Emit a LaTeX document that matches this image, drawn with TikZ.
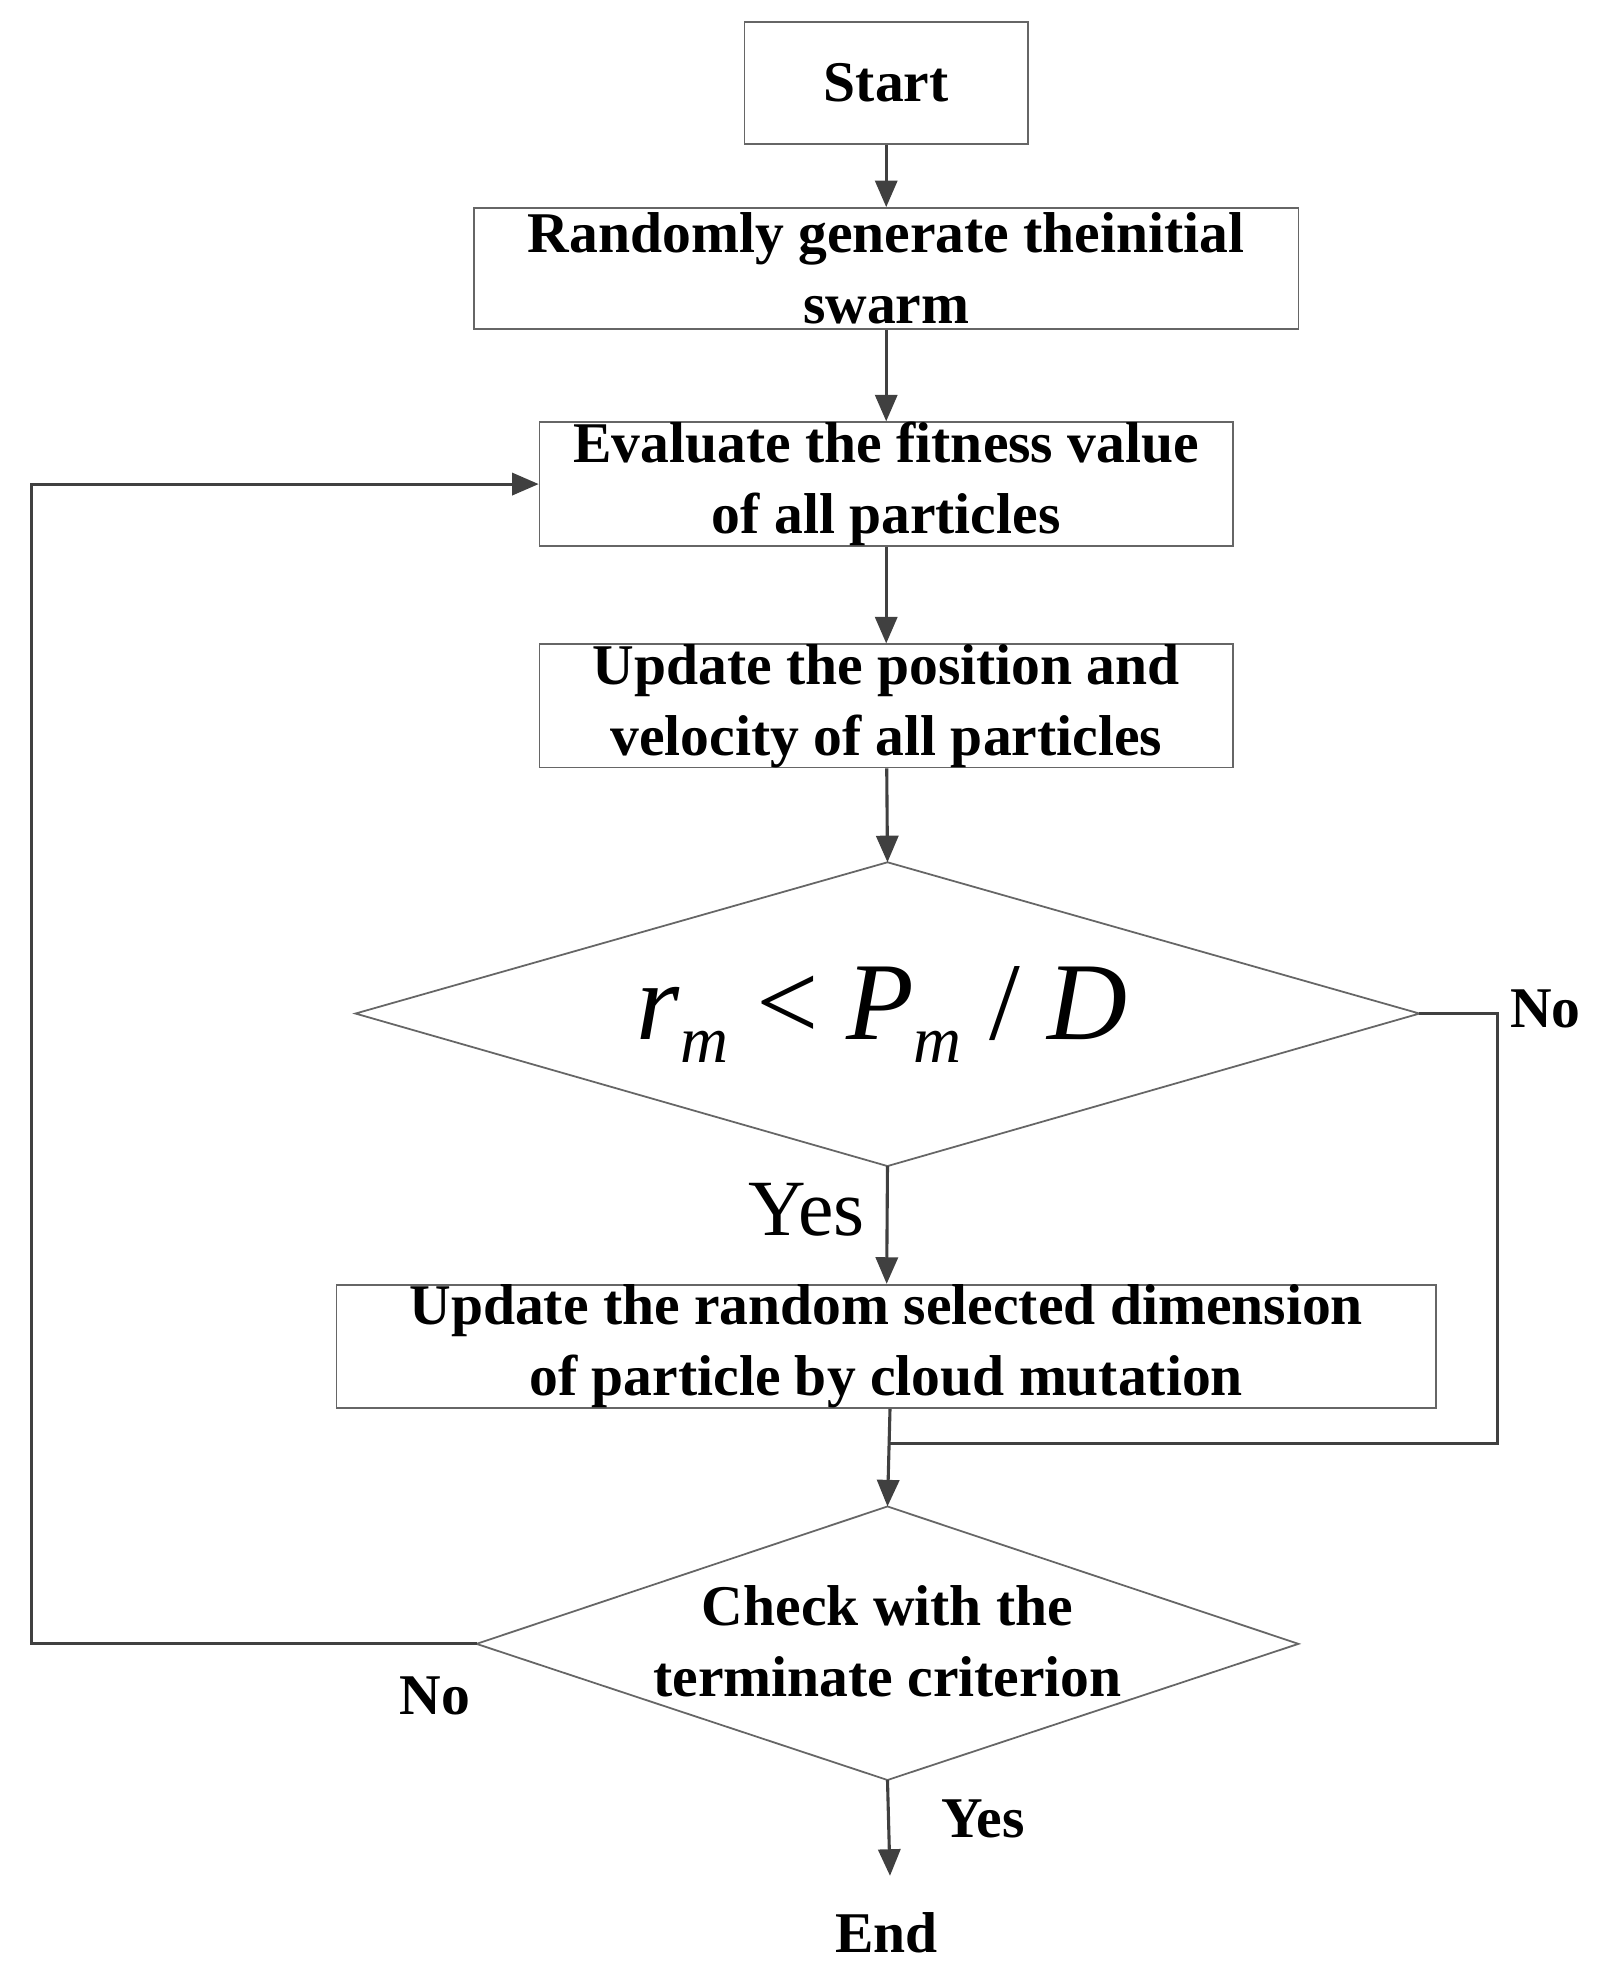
\documentclass[tikz,border=0pt]{standalone}
\usepackage{fontspec}
\setmainfont{Liberation Serif}
\usetikzlibrary{shapes.geometric,arrows.meta}
\newcommand{\subm}{\raisebox{-0.45ex}{\fontsize{30}{32}\selectfont\itshape m}}
\begin{document}
\begin{tikzpicture}[x=0.02cm,y=-0.02cm,
  box/.style={draw=black!60,line width=0.8pt,inner sep=0pt,font=\fontsize{26}{32}\selectfont\bfseries,align=center},
  lbl/.style={font=\fontsize{26}{32}\selectfont\bfseries},
  ln/.style={draw=black!75,line width=1.4pt},
  arr/.style={ln,-{Triangle[length=12pt,width=10pt]}}]
\useasboundingbox (0,0) rectangle (1275,1577);
\node[box,minimum width=225*0.02cm,minimum height=97*0.02cm] (start) at (703,66) {Start};
\node[box,minimum width=654*0.02cm,minimum height=96*0.02cm] (rand) at (703,213) {Randomly generate theinitial\\swarm};
\node[box,minimum width=550*0.02cm,minimum height=95*0.02cm] (eval) at (703,384) {Evaluate the fitness value\\of all particles};
\node[box,minimum width=550*0.02cm,minimum height=96*0.02cm] (upd) at (703,560) {Update the position and\\velocity of all particles};
\draw[black!60,line width=0.8pt] (282,804) coordinate (d1l) -- (704,684) coordinate (d1t) -- (1126,804) coordinate (d1r) -- (704,925) coordinate (d1b) -- cycle;
\node[font=\fontsize{50}{54}\selectfont\rmfamily] (f) at (700,805) {\textit{r}\subm{} < \textit{P}\subm{} / \textit{D}};
\node[box,minimum width=872*0.02cm,minimum height=96*0.02cm] (mut) at (703,1068) {Update the random selected dimension\\of particle by cloud mutation};
\draw[black!60,line width=0.8pt] (378,1304) coordinate (d2l) -- (704,1195) coordinate (d2t) -- (1030,1304) coordinate (d2r) -- (704,1412) coordinate (d2b) -- cycle;
\node[lbl,align=center] (chk) at (704,1302) {Check with the\\terminate criterion};
\node[lbl] (endn) at (703,1533) {End};
\coordinate (endt) at (706,1488);
\draw[arr] (start) -- (rand);
\draw[arr] (rand) -- (eval);
\draw[arr] (eval) -- (upd);
\draw[arr] (upd) -- (d1t);
\draw[arr] (d1b) -- (mut);
\node[font=\fontsize{36}{40}\selectfont\rmfamily] (yes1) at (640,960) {Yes};
\coordinate (j) at (706,1145);
\draw[ln] (d1r) -- (1188,804) -- (1188,1145) -- (j);
\node[lbl] (no1) at (1226,800) {No};
\draw[arr] (mut.south -| j) -- (d2t);
\draw[arr] (d2l) -- (25,1304) -- (25,384) -- (eval.west);
\node[lbl] (no2) at (345,1345) {No};
\draw[arr] (d2b) -- (endt);
\node[lbl] (yes2) at (780,1443) {Yes};
\end{tikzpicture}
\end{document}
